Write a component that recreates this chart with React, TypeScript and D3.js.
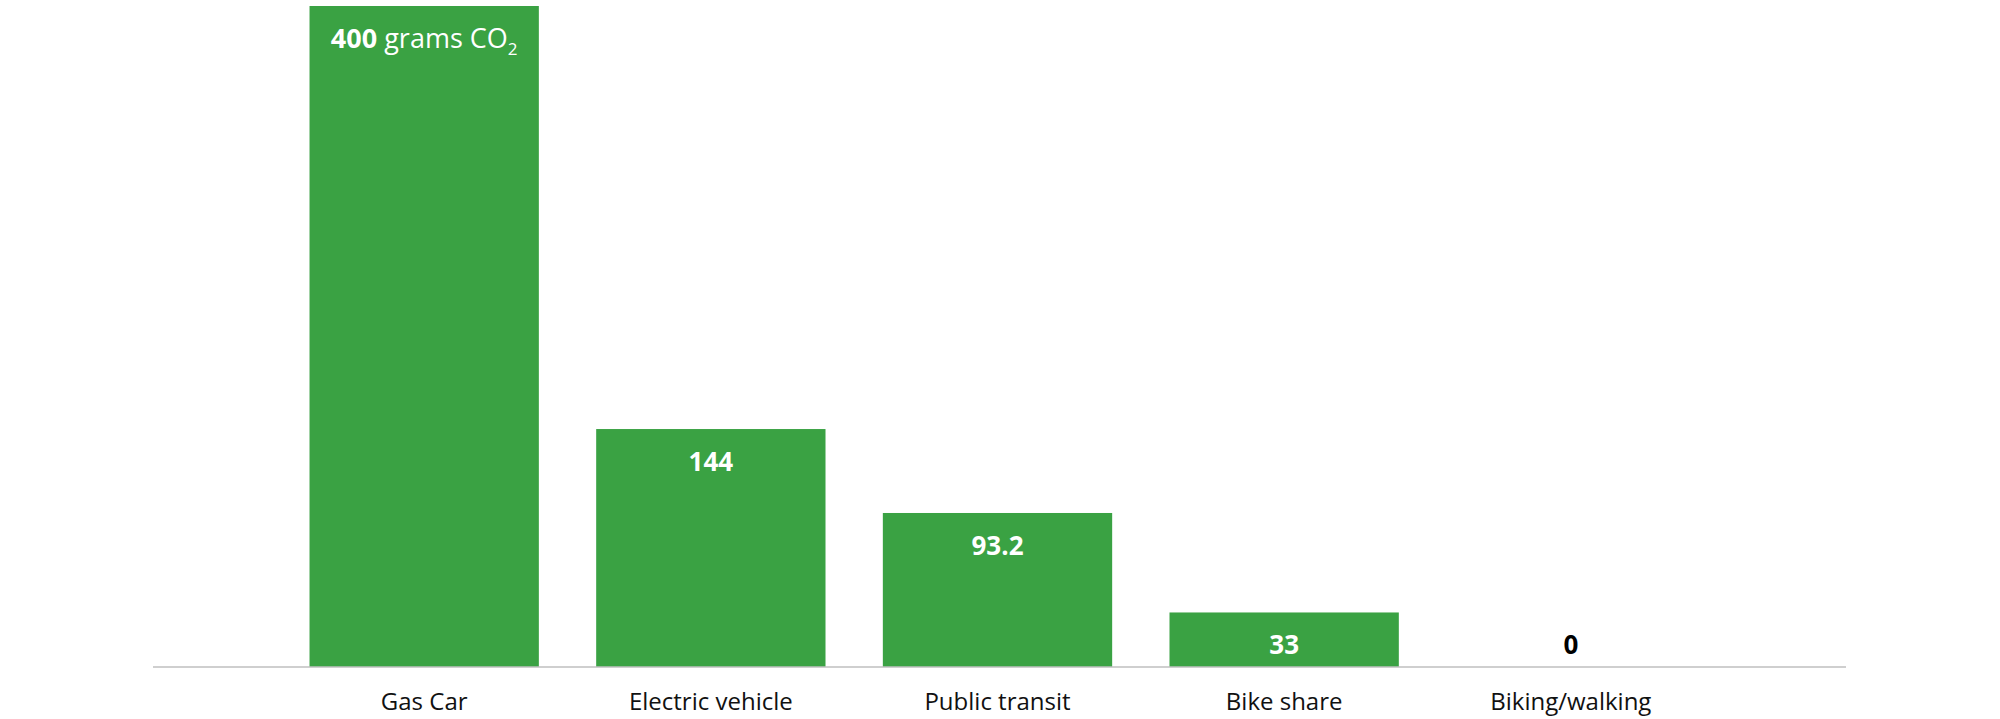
import * as d3 from 'd3'

const categories = ['Gas Car', 'Electric vehicle', 'Public transit', 'Bike share', 'Biking/walking']
const emissions = [400, 144, 93.2, 33, 0]

const WIDTH = 2000
const HEIGHT = 719
const GREEN = '#3aa243'
const FONT = '"Open Sans", "Noto Sans", sans-serif'

export default function App() {
  const x = d3.scaleBand<string>()
    .domain(categories)
    .range([151, 1844])
    .paddingInner(0.2)
    .paddingOuter(0.553)

  const y = d3.scaleLinear()
    .domain([0, 400])
    .range([667, 6])

  const baseline = y(0)

  return (
    <svg
      width={WIDTH}
      height={HEIGHT}
      style={{ position: 'absolute', left: 0, top: 0, display: 'block', background: '#fff' }}
      fontFamily={FONT}
    >
      {categories.map((c, i) => {
        const v = emissions[i]
        const bx = x(c) ?? 0
        const cx = bx + x.bandwidth() / 2
        const labelY = Math.min(y(v) + 42, baseline - 13)
        const inside = v > 0
        return (
          <g key={c}>
            {inside && (
              <rect x={bx} y={y(v)} width={x.bandwidth()} height={baseline - y(v)} fill={GREEN} />
            )}
            {i === 0 ? (
              <text x={cx} y={labelY} textAnchor="middle" fill="#fff" fontSize={27}>
                <tspan fontWeight={700}>{v}</tspan>
                <tspan> grams CO</tspan>
                <tspan fontSize={17} dy={7}>2</tspan>
              </text>
            ) : (
              <text
                x={cx}
                y={labelY}
                textAnchor="middle"
                fill={inside ? '#fff' : '#000'}
                fontSize={26}
                fontWeight={700}
              >
                {v}
              </text>
            )}
            <text x={cx} y={710} textAnchor="middle" fill="#111" fontSize={24}>
              {c}
            </text>
          </g>
        )
      })}
      <line x1={153} x2={1846} y1={baseline} y2={baseline} stroke="#bfbfbf" strokeWidth={1.5} />
    </svg>
  )
}
